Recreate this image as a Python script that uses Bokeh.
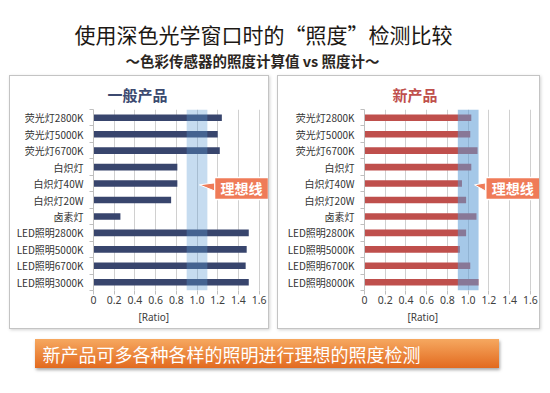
from bokeh.plotting import figure
from bokeh.models import Range1d, FixedTicker, Label, ColumnDataSource, Spacer, BoxAnnotation, Title
from bokeh.layouts import column, row
from bokeh.embed import file_html
from bokeh.resources import INLINE

# ---------------- data ----------------
main_title = "使用深色光学窗口时的“照度”检测比较"
sub_title = "～色彩传感器的照度计算值 vs 照度计～"
banner_text = "新产品可多各种各样的照明进行理想的照度检测"

general_title = "一般产品"
new_title = "新产品"

general_categories = ["荧光灯2800K", "荧光灯5000K", "荧光灯6700K", "白炽灯", "白炽灯40W",
                      "白炽灯20W", "卤素灯", "LED照明2800K", "LED照明5000K",
                      "LED照明6700K", "LED照明3000K"]
new_categories = ["荧光灯2800K", "荧光灯5000K", "荧光灯6700K", "白炽灯", "白炽灯40W",
                  "白炽灯20W", "卤素灯", "LED照明2800K", "LED照明5000K",
                  "LED照明6700K", "LED照明8000K"]

general_values = [1.24, 1.20, 1.22, 0.81, 0.81, 0.75, 0.26, 1.50, 1.48, 1.47, 1.50]
new_values = [1.03, 1.02, 1.09, 1.03, 0.94, 0.98, 1.08, 0.98, 0.92, 1.02, 1.10]

x_ticks = [0, 0.2, 0.4, 0.6, 0.8, 1.0, 1.2, 1.4, 1.6]
x_tick_labels = ["0", "0.2", "0.4", "0.6", "0.8", "1.0", "1.2", "1.4", "1.6"]
x_axis_title = "[Ratio]"

ideal_low, ideal_high = 0.9, 1.1
ideal_label = "理想线"

CJK = "Noto Sans CJK SC"
CALLOUT = "#ef7b58"


def make_panel(title, title_color, cats, vals, bar_color, band_alpha, width, x_end,
               mb_left, title_off, ratio_off, tip_x, base_x, call_x):
    n = len(cats)
    p = figure(width=width, height=254, x_range=Range1d(0, x_end),
               y_range=Range1d(n - 0.5, -0.5),
               output_backend="svg", toolbar_location=None,
               min_border_left=mb_left, min_border_right=0,
               min_border_top=33, min_border_bottom=40,
               styles={"border": "1px solid #c4c4c4",
                       "box-shadow": "1px 1px 3px rgba(0,0,0,0.18)"})
    p.outline_line_color = None
    idx = list(range(n))
    src = ColumnDataSource(dict(y=idx, v=vals, cat=cats))
    p.hbar(y="y", left=0, right="v", height=0.4, fill_color=bar_color,
           line_color=None, source=src)
    p.add_layout(BoxAnnotation(left=ideal_low, right=ideal_high,
                               fill_color="#5b9bd5", fill_alpha=band_alpha,
                               line_color=None))

    # y axis (categories)
    ya = p.yaxis[0]
    ya.ticker = FixedTicker(ticks=idx, minor_ticks=[i - 0.5 for i in range(n + 1)])
    ya.major_label_overrides = {i: c for i, c in enumerate(cats)}
    ya.major_tick_line_color = None
    ya.major_tick_out = 0
    ya.major_tick_in = 0
    ya.minor_tick_line_color = "#bfbfbf"
    ya.minor_tick_out = 4
    ya.minor_tick_in = 0
    ya.axis_line_color = "#bfbfbf"
    ya.major_label_text_font = CJK
    ya.major_label_text_font_size = "10px"
    ya.major_label_text_color = "#333333"
    ya.major_label_standoff = 6

    # x axis
    xa = p.xaxis[0]
    xa.ticker = FixedTicker(ticks=x_ticks, minor_ticks=[])
    xa.major_label_overrides = {t: l for t, l in zip(x_ticks, x_tick_labels)}
    xa.axis_line_color = None
    xa.major_tick_line_color = "#bfbfbf"
    xa.major_tick_out = 4
    xa.major_tick_in = 0
    xa.major_label_standoff = 1
    xa.major_label_text_font = "Noto Sans"
    xa.major_label_text_font_size = "10.5px"
    xa.major_label_text_color = "#404040"

    p.ygrid.grid_line_color = None
    p.xgrid.ticker = FixedTicker(ticks=x_ticks)
    p.xgrid.grid_line_color = "#d0d0d0"

    p.title.text = title
    p.title.align = "left"
    p.title.offset = title_off
    p.title.standoff = 10
    p.title.text_font = CJK
    p.title.text_font_size = "15px"
    p.title.text_font_style = "bold"
    p.title.text_color = title_color

    p.add_layout(Title(text=x_axis_title, align="left", offset=ratio_off, standoff=3,
                       text_font="Noto Sans", text_font_size="10px",
                       text_font_style="normal", text_color="#404040"), "below")

    # callout for the ideal line
    p.patch(x=[tip_x, base_x, base_x], y=[4.08, 3.96, 4.45], fill_color=CALLOUT,
            line_color="white", line_width=1, level="overlay")
    p.add_layout(Label(x=call_x, y=4.3, text=ideal_label, text_align="center",
                       text_baseline="middle", text_font=CJK, text_font_size="14px",
                       text_font_style="bold", text_color="white",
                       background_fill_color=CALLOUT, border_line_color="white",
                       border_line_width=1.5, padding=(6, 1)))
    return p


left = make_panel(general_title, "#3c4a70", general_categories, general_values,
                  "#38456d", 0.35, 260, 1.71, 83, 14, 45, 1.023, 1.17, 1.43)
right = make_panel(new_title, "#c0504d", new_categories, new_values,
                   "#bf4f4c", 0.55, 263, 1.707, 86, 28, 43, 1.061, 1.166, 1.43)

# title figure
t = figure(width=534, height=67, x_range=Range1d(0, 534), y_range=Range1d(0, 67),
           output_backend="svg", toolbar_location=None,
           x_axis_location=None, y_axis_location=None, min_border=0)
t.grid.grid_line_color = None
t.outline_line_color = None
t.add_layout(Label(x=255, y=42, text=main_title, text_align="center",
                   text_baseline="middle", text_font=CJK, text_font_size="21px",
                   text_color="#1c1814"))
t.add_layout(Label(x=244, y=15, text=sub_title, text_align="center",
                   text_baseline="middle", text_font=CJK, text_font_size="14.5px",
                   text_font_style="bold", text_color="#2b2622"))

# banner figure
b = figure(width=464, height=29, x_range=Range1d(0, 464), y_range=Range1d(0, 29),
           output_backend="svg", toolbar_location=None,
           x_axis_location=None, y_axis_location=None, min_border=0,
           styles={"background": "linear-gradient(#f6a860, #e26a1f)",
                   "box-shadow": "1px 2px 3px rgba(0,0,0,0.35)"})
b.grid.grid_line_color = None
b.outline_line_color = None
b.background_fill_alpha = 0
b.border_fill_alpha = 0
b.add_layout(Label(x=7, y=14.5, text=banner_text, text_align="left",
                   text_baseline="middle", text_font=CJK, text_font_size="18px",
                   text_color="white"))

content = column(
    t,
    row(Spacer(width=1), left, Spacer(width=8), right, spacing=0),
    Spacer(height=10),
    row(Spacer(width=27), b, spacing=0),
    spacing=0,
)
layout = row(Spacer(width=8), column(Spacer(height=8), content, spacing=0), spacing=0)

open("out.html", "w").write(file_html(layout, INLINE))
